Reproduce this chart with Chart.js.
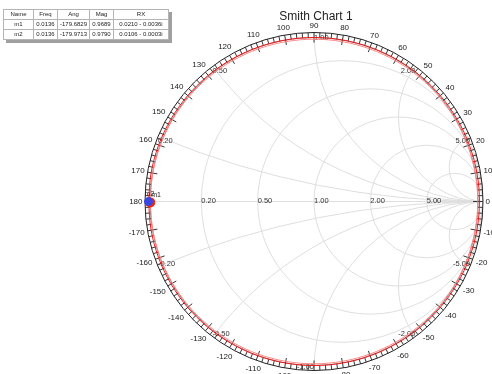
<!DOCTYPE html>
<html>
<head>
<meta charset="utf-8">
<script src="https://cdn.jsdelivr.net/npm/chart.js@4.4.0/dist/chart.umd.min.js"></script>
<style>
  html, body { margin: 0; padding: 0; background: #fff; }
  #wrap { position: relative; width: 492px; height: 374px; overflow: hidden; }
  #smith { position: absolute; left: 0; top: 0; }
  table.mk {
    position: absolute; left: 3px; top: 9px;
    border-collapse: collapse; table-layout: fixed;
    font: 6px "Liberation Sans", Arial, sans-serif; color: #222;
    background: #fff; box-shadow: 3px 3px 0 #a0a0a0;
  }
  table.mk td {
    border: 1px solid #b4b4b4; height: 9px; padding: 0 1px;
    text-align: center; white-space: nowrap; overflow: hidden; line-height: 9px;
  }
</style>
</head>
<body>
<div id="wrap">
  <canvas id="smith" width="492" height="374"></canvas>
  <table class="mk" id="mk"></table>
</div>
<script>
// ---- chart data ----
const chartTitle = 'Smith Chart 1';

// marker table
const tableHeader = ['Name', 'Freq', 'Ang', 'Mag', 'RX'];
const columnWidths = [30, 24, 32, 24, 55];
const markerNames = ['m1', 'm2'];
const markerFreq = ['0.0136', '0.0136'];
const markerAng = [-179.6829, -179.9713];
const markerMag = [0.9689, 0.9790];
const markerRX = ['0.0210 - 0.0036i', '0.0106 - 0.0003i'];
const markerColors = ['#f0260f', '#3a46e0'];

// grid values of the chart
const resistanceValues = [0.2, 0.5, 1, 2, 5];
const reactanceValues = [0.2, 0.5, 1, 2, 5];
const resistanceLabels = ['0.20', '0.50', '1.00', '2.00', '5.00'];
const reactanceLabels = ['0.20', '0.50', '1.00', '2.00', '5.00'];
const angleTicks = [0, 10, 20, 30, 40, 50, 60, 70, 80, 90, 100, 110, 120, 130, 140, 150, 160, 170, 180,
                    -170, -160, -150, -140, -130, -120, -110, -100, -90, -80, -70, -60, -50, -40, -30, -20, -10];

// swept traces: angle (deg) and reflection magnitude along each trace
const sweepAngles = [180, 170, 160, 150, 140, 130, 120, 110, 100, 90, 80, 70, 60, 50, 40, 30, 20, 10, 0,
                     -10, -20, -30, -40, -50, -60, -70, -80, -90, -100, -110, -120, -130, -140, -150, -160, -170, -180];
const trace1Mag = [0.969, 0.969, 0.969, 0.969, 0.969, 0.969, 0.969, 0.969, 0.969, 0.969, 0.969, 0.969, 0.969,
                   0.969, 0.969, 0.969, 0.969, 0.969, 0.969, 0.969, 0.969, 0.969, 0.969, 0.969, 0.969, 0.969,
                   0.969, 0.969, 0.969, 0.969, 0.969, 0.969, 0.969, 0.969, 0.969, 0.969, 0.969];
const trace2Mag = [0.979, 0.979, 0.979, 0.979, 0.979, 0.979, 0.979, 0.979, 0.979, 0.979, 0.979, 0.979, 0.979,
                   0.979, 0.979, 0.979, 0.979, 0.979, 0.979, 0.979, 0.979, 0.979, 0.979, 0.979, 0.979, 0.979,
                   0.979, 0.979, 0.979, 0.979, 0.979, 0.979, 0.979, 0.979, 0.979, 0.979, 0.979];

// ---- marker table ----
(function buildTable() {
  const t = document.getElementById('mk');
  const cg = document.createElement('colgroup');
  columnWidths.forEach(w => { const c = document.createElement('col'); c.style.width = w + 'px'; cg.appendChild(c); });
  t.appendChild(cg);
  const addRow = cells => {
    const tr = document.createElement('tr');
    cells.forEach(v => { const td = document.createElement('td'); td.textContent = v; tr.appendChild(td); });
    t.appendChild(tr);
  };
  addRow(tableHeader);
  markerNames.forEach((n, i) => addRow([n, markerFreq[i], markerAng[i].toFixed(4), markerMag[i].toFixed(4), markerRX[i]]));
})();

// polar (magnitude, degrees) -> reflection plane point
const toPlane = (mag, deg) => ({ x: mag * Math.cos(deg * Math.PI / 180), y: mag * Math.sin(deg * Math.PI / 180) });
const tracePoints = mags => sweepAngles.map((a, i) => toPlane(mags[i], a));

const FONT = '"Liberation Sans", Arial, sans-serif';

// grid, rim scale and annotation text of the Smith chart
const smithGrid = {
  id: 'smithGrid',
  beforeDatasetsDraw(chart) {
    const { ctx, scales: { x, y } } = chart;
    const cx = x.getPixelForValue(0), cy = y.getPixelForValue(0);
    const R = x.getPixelForValue(1) - cx;
    ctx.save();

    // title
    ctx.fillStyle = '#222';
    ctx.font = '12px ' + FONT;
    ctx.textAlign = 'center'; ctx.textBaseline = 'middle';
    ctx.fillText(chartTitle, 316, 17);

    // constant resistance / reactance curves, clipped to the unit circle
    ctx.save();
    ctx.beginPath(); ctx.arc(cx, cy, R, 0, Math.PI * 2); ctx.clip();
    ctx.strokeStyle = '#dedede'; ctx.lineWidth = 1;
    ctx.beginPath(); ctx.moveTo(cx - R, cy); ctx.lineTo(cx + R, cy); ctx.stroke();
    resistanceValues.forEach(r => {
      ctx.beginPath();
      ctx.arc(cx + R * r / (1 + r), cy, R / (1 + r), 0, Math.PI * 2);
      ctx.stroke();
    });
    reactanceValues.forEach(v => {
      [v, -v].forEach(s => {
        ctx.beginPath();
        ctx.arc(cx + R, cy - R / s, R / Math.abs(s), 0, Math.PI * 2);
        ctx.stroke();
      });
    });
    ctx.restore();

    // rim: outer circle, inner rail, rungs every 2 degrees, long ticks every 10
    ctx.lineWidth = 1;
    ctx.strokeStyle = '#222';
    ctx.beginPath(); ctx.arc(cx, cy, R, 0, Math.PI * 2); ctx.stroke();
    ctx.strokeStyle = '#8a8a8a';
    ctx.beginPath(); ctx.arc(cx, cy, R - 5, 0, Math.PI * 2); ctx.stroke();
    ctx.strokeStyle = '#333';
    for (let d = 0; d < 360; d += 2) {
      const t = d * Math.PI / 180;
      const inner = (d % 10 === 0) ? R - 10 : R - 5;
      ctx.beginPath();
      ctx.moveTo(cx + R * Math.cos(t), cy - R * Math.sin(t));
      ctx.lineTo(cx + inner * Math.cos(t), cy - inner * Math.sin(t));
      ctx.stroke();
    }

    // degree labels outside the rim
    ctx.fillStyle = '#222';
    ctx.font = '8px ' + FONT;
    ctx.textAlign = 'center'; ctx.textBaseline = 'middle';
    angleTicks.forEach(a => {
      const t = a * Math.PI / 180;
      const s = String(a);
      const w = ctx.measureText(s).width;
      const rr = R + 2.5 + (w / 2) * Math.abs(Math.cos(t)) + 4 * Math.abs(Math.sin(t));
      ctx.fillText(s, cx + rr * Math.cos(t), cy - rr * Math.sin(t));
    });

    // resistance labels along the real axis
    ctx.fillStyle = '#333';
    ctx.font = '7.5px ' + FONT;
    ctx.textAlign = 'left'; ctx.textBaseline = 'middle';
    resistanceValues.forEach((r, i) => {
      const gx = (r - 1) / (r + 1);
      ctx.fillText(resistanceLabels[i], x.getPixelForValue(gx), cy - 1);
    });

    // reactance labels where the arcs meet the rim
    reactanceValues.forEach((v, i) => {
      [1, -1].forEach(sg => {
        const xv = v * sg;
        const d = 1 + xv * xv;
        const gx = (xv * xv - 1) / d, gy = 2 * xv / d;
        const px = x.getPixelForValue(gx), py = y.getPixelForValue(gy);
        ctx.textAlign = gx > 0.01 ? 'right' : 'left';
        if (sg < 0 && Math.abs(gx) <= 0.01) ctx.textAlign = 'right';
        ctx.textBaseline = sg > 0 ? 'top' : 'bottom';
        const txt = (sg < 0 ? '-' : '') + reactanceLabels[i];
        ctx.fillText(txt, px, sg > 0 ? py : py + 2);
      });
    });
    ctx.restore();
  },
  afterDatasetsDraw(chart) {
    const { ctx, scales: { x, y } } = chart;
    ctx.save();
    ctx.fillStyle = '#222';
    ctx.font = '7px ' + FONT;
    ctx.textBaseline = 'bottom';
    markerNames.forEach((n, i) => {
      const p = toPlane(markerMag[i], markerAng[i]);
      ctx.textAlign = 'left';
      ctx.fillText(n, x.getPixelForValue(p.x) + (i === 0 ? 1 : -4), y.getPixelForValue(p.y) - 4);
    });
    ctx.restore();
  }
};

const datasets = [
  { data: tracePoints(trace1Mag), showLine: true, borderColor: '#f88', borderWidth: 1, pointRadius: 0, tension: 0.33, clip: false, order: 4 },
  { data: tracePoints(trace2Mag), showLine: true, borderColor: '#ee1b1b', borderWidth: 1, pointRadius: 0, tension: 0.33, clip: false, order: 3 }
];
// marker dots (m2 drawn over m1)
markerNames.forEach((n, i) => {
  datasets.push({
    data: [toPlane(markerMag[i], markerAng[i])],
    showLine: false, pointRadius: i === 0 ? 5 : 4.5, pointHoverRadius: 5,
    backgroundColor: markerColors[i], borderColor: markerColors[i], borderWidth: 0,
    clip: false, order: 2 - i
  });
});

new Chart(document.getElementById('smith'), {
  type: 'scatter',
  data: { datasets },
  options: {
    responsive: false, animation: false, devicePixelRatio: 1,
    layout: { padding: { left: 145, right: 9, top: 34, bottom: 2 } },
    scales: {
      x: { type: 'linear', min: -1, max: 1, display: false },
      y: { type: 'linear', min: -1, max: 1, display: false }
    },
    plugins: { legend: { display: false }, tooltip: { enabled: false }, title: { display: false } },
    events: []
  },
  plugins: [smithGrid]
});
</script>
</body>
</html>
